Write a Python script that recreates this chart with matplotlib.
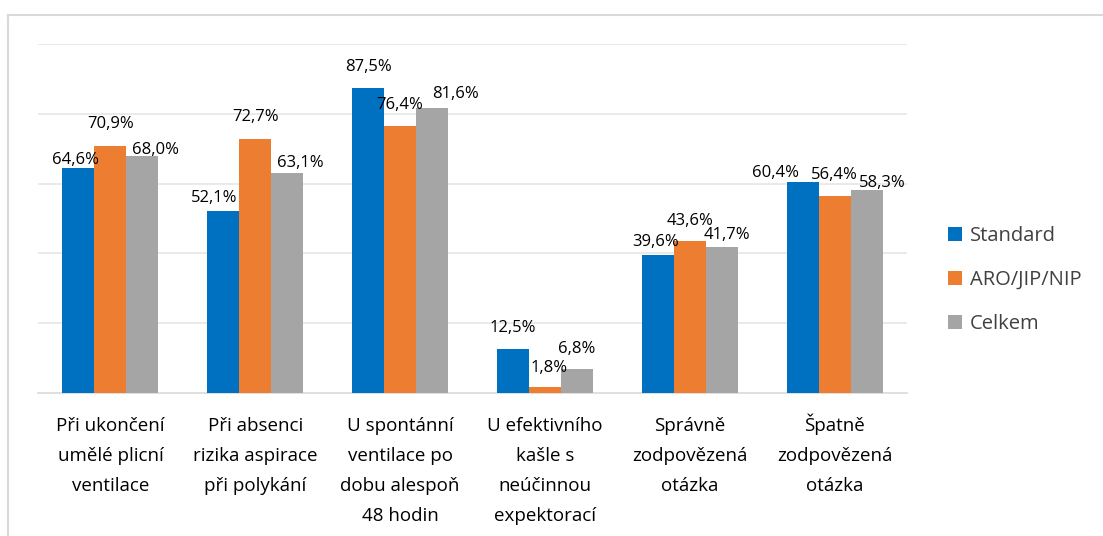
import matplotlib.pyplot as plt
import numpy as np
from matplotlib.lines import Line2D

plt.rcParams['font.family'] = ['Open Sans', 'DejaVu Sans']

categories = ['Při ukončení\numělé plicní\nventilace',
              'Při absenci\nrizika aspirace\npři polykání',
              'U spontánní\nventilace po\ndobu alespoň\n48 hodin',
              'U efektivního\nkašle s\nneúčinnou\nexpektorací',
              'Správně\nzodpovězená\notázka',
              'Špatně\nzodpovězená\notázka']
series = ['Standard', 'ARO/JIP/NIP', 'Celkem']
standard = [64.6, 52.1, 87.5, 12.5, 39.6, 60.4]
aro = [70.9, 72.7, 76.4, 1.8, 43.6, 56.4]
celkem = [68.0, 63.1, 81.6, 6.8, 41.7, 58.3]
colors = ['#0070C0', '#ED7D31', '#A5A5A5']

# label placement (dx, dy) in pixels from bar top centre, Excel-like staggering
label_pos = {
    (0, 0): (-3, 8), (0, 1): (0, 22), (0, 2): (13, 6),
    (1, 0): (-9, 13), (1, 1): (0, 22), (1, 2): (13, 10),
    (2, 0): (0, 21), (2, 1): (0, 21), (2, 2): (23, 14),
    (3, 0): (0, 21), (3, 1): (4, 19), (3, 2): (0, 20),
    (4, 0): (-2, 13), (4, 1): (0, 20), (4, 2): (5, 12),
    (5, 0): (-27, 9), (5, 1): (0, 21), (5, 2): (16, 7),
}

fig = plt.figure(figsize=(11.03, 5.36), dpi=100)
ax = fig.add_axes([38 / 1103, 1 - 393 / 536, 869 / 1103, 349 / 536])

x = np.arange(len(categories))
w = 0.221
data = [standard, aro, celkem]
for i, (name, vals, c) in enumerate(zip(series, data, colors)):
    bars = ax.bar(x + (i - 1) * w, vals, w, color=c, label=name, zorder=3)
    for j, b in enumerate(bars):
        dx, dy = label_pos[(j, i)]
        ax.annotate(f'{vals[j]:.1f}%'.replace('.', ','),
                    (b.get_x() + b.get_width() / 2, b.get_height()),
                    xytext=(dx * 0.72, dy * 0.72), textcoords='offset points',
                    ha='center', va='center', fontsize=12, color='#000000',
                    zorder=5)

ax.set_ylim(0, 100)
ax.set_xlim(-0.5, len(categories) - 0.5)
ax.set_yticks([20, 40, 60, 80, 100])
ax.yaxis.grid(True, color='#e6e6e6', linewidth=1.2, zorder=0)
ax.tick_params(axis='y', left=False, labelleft=False)
ax.tick_params(axis='x', bottom=False, pad=14)
ax.set_xticks(x)
ax.set_xticklabels(categories, fontsize=13.5, linespacing=1.85, color='#000000')
# the caron on Š makes the first line taller; lift that label to line up
ax.get_xticklabels()[5].set_y(4 / 349)
for s in ['top', 'right', 'left']:
    ax.spines[s].set_visible(False)
ax.spines['bottom'].set_color('#d9d9d9')
ax.spines['bottom'].set_linewidth(1.2)

ax.legend(loc='center left', bbox_to_anchor=(1.026, 0.324), frameon=False,
          fontsize=14.5, handlelength=0.7, handleheight=0.7, handletextpad=0.4,
          labelspacing=1.2, labelcolor='#404040')

# chart frame (top and left edges visible)
fig.add_artist(Line2D([8 / 1103, 1], [1 - 15 / 536, 1 - 15 / 536], color='#d9d9d9', lw=1.5))
fig.add_artist(Line2D([8 / 1103, 8 / 1103], [0, 1 - 15 / 536], color='#d9d9d9', lw=1.5))

fig.savefig('out.png', dpi=100)
